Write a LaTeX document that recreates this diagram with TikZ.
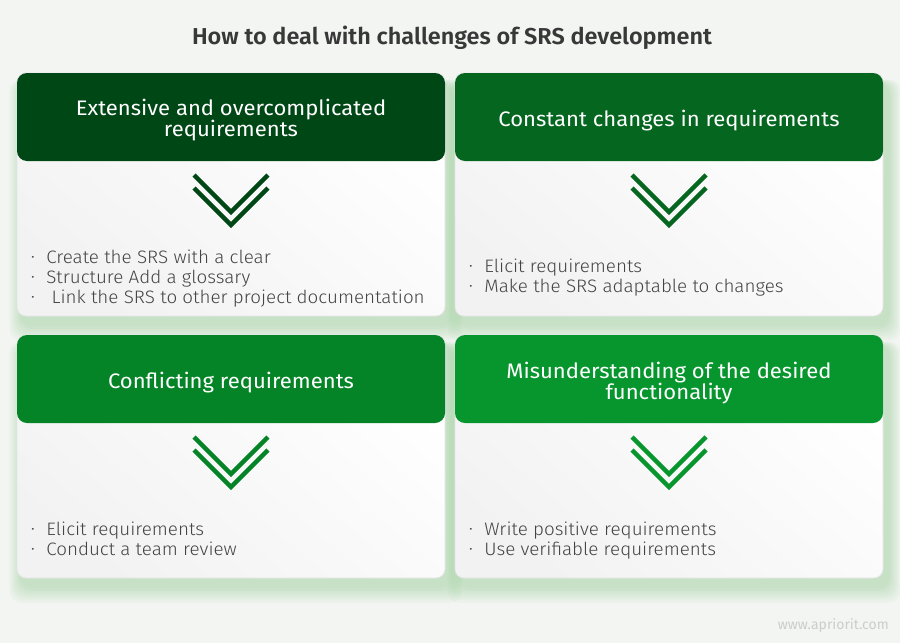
\documentclass[tikz,border=0pt]{standalone}
\usepackage{fontspec}
\setmainfont{Fira Sans}
\newfontfamily\lightfont{Fira Sans Light}
\newfontfamily\semifont{Fira Sans SemiBold}
\usetikzlibrary{calc}
\definecolor{bg}{HTML}{F3F5F3}
\definecolor{cA}{HTML}{004716}
\definecolor{cB}{HTML}{04661F}
\definecolor{cC}{HTML}{058427}
\definecolor{cD}{HTML}{07962D}
\definecolor{txt}{HTML}{444444}
\definecolor{ttl}{HTML}{383838}
\definecolor{glow}{HTML}{7CC27A}
\newcommand{\bitem}{\makebox[14.5pt][l]{\raisebox{1.2pt}{\fontsize{12}{12}\selectfont\textbullet}}}
\newcommand{\mycard}[8]{%
  % #1 name, #2 left, #3 top, #4 colour, #5 header lines, #6 header first baseline, #7 body lines, #8 body first baseline
  \foreach \i in {1,...,7}{
    \fill[glow, opacity=0.06, rounded corners=12pt]
      ($(#2-\i*1.8+5,#3+10-\i*0.5)$) rectangle ($(#2+428+\i*1.8+5,#3+243+8+\i*2.4)$);
  }
  \shade[rounded corners=9pt, top color=white, bottom color=black!5, shading angle=-40]
    (#2,#3) rectangle (#2+428,#3+243);
  \draw[rounded corners=9pt, draw=black!10, line width=0.8pt]
    (#2,#3) rectangle (#2+428,#3+243);
  \fill[#4, rounded corners=10pt] (#2,#3) rectangle (#2+428,#3+88);
  \node[headtext, anchor=base] (#1h) at (#2+214,#6)
    {\scalebox{1.05}[1]{\vtop{\baselineskip=20pt\halign{\hfil##\hfil\cr #5\cr}}}};
  \draw[chev, #4] (#2+214-37,#3+88+14) -- (#2+214,#3+88+51) -- (#2+214+37,#3+88+14);
  \draw[chev, #4] (#2+214-37,#3+88+27) -- (#2+214,#3+88+64) -- (#2+214+37,#3+88+27);
  \node[bodytext, anchor=base west] (#1b) at (#2+14,#8)
    {\scalebox{1.045}[1]{\vtop{\baselineskip=20pt\halign{##\hfil\cr #7\cr}}}};
}
\begin{document}
\begin{tikzpicture}[x=1pt,y=-1pt,
  headtext/.style={text=white, inner sep=0pt, font=\fontsize{21}{20}\selectfont},
  bodytext/.style={text=txt, inner sep=0pt, font=\lightfont\fontsize{18}{20}\selectfont},
  chev/.style={line width=4.3pt, miter limit=10}]
\fill[bg] (0,0) rectangle (900,643);
\useasboundingbox (0,0) rectangle (900,643);
\node[text=ttl, anchor=base, inner sep=0pt, font=\semifont\fontsize{23}{24}\selectfont] (title) at (452,44)
  {\scalebox{1.02}[1]{How to deal with challenges of SRS development}};
\mycard{a}{17}{73}{cA}{Extensive and overcomplicated\cr requirements}{115}{\bitem Create the SRS with a clear\cr\bitem Structure Add a glossary\cr\bitem\ Link the SRS to other project documentation}{263}
\mycard{b}{455}{73}{cB}{Constant changes in requirements}{126}{\bitem Elicit requirements\cr\bitem Make the SRS adaptable to changes}{272}
\mycard{c}{17}{335}{cC}{Conflicting requirements}{388}{\bitem Elicit requirements\cr\bitem Conduct a team review}{535}
\mycard{d}{455}{335}{cD}{Misunderstanding of the desired\cr functionality}{378}{\bitem Write positive requirements\cr\bitem Use verifiable requirements}{535}
\node[text=black!20, anchor=base east, inner sep=0pt, font=\fontsize{14}{14}\selectfont] (web) at (889,629) {www.apriorit.com};
\end{tikzpicture}
\end{document}
